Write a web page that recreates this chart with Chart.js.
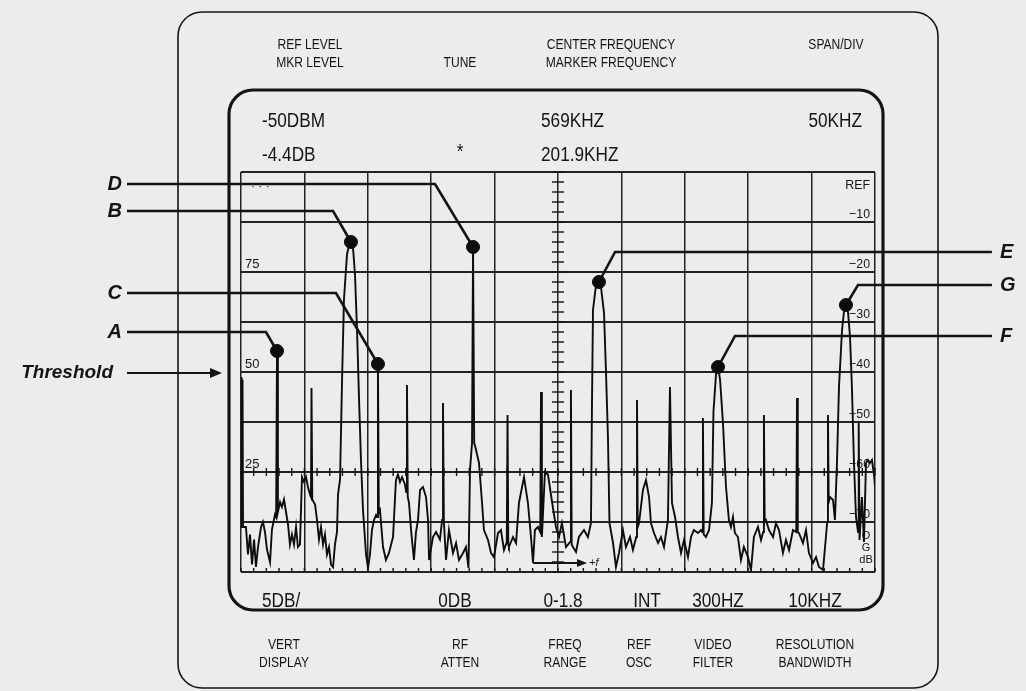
<!DOCTYPE html>
<html>
<head>
<meta charset="utf-8">
<script src="https://cdn.jsdelivr.net/npm/chart.js@4.4.1/dist/chart.umd.min.js"></script>
<style>
  html, body { margin: 0; padding: 0; background: #ececec; }
  #wrap { width: 1026px; height: 691px; }
</style>
</head>
<body>
<div id="wrap"><canvas id="scope" width="1026" height="691"></canvas></div>
<script>
// spectrum analyzer screen: center 569 kHz, 50 kHz/div, ref level at top, 10 dB per graticule line
const freqTicks = [319, 369, 419, 469, 519, 569, 619, 669, 719, 769, 819];
const levelTicks = [0, -10, -20, -30, -40, -50, -60, -70, -80];
const rightLabels = ["REF", "\u221210", "\u221220", "\u221230", "\u221240", "\u221250", "\u221260", "\u221270"];
const leftLabelLevels = [-20, -40, -60];
const leftLabels = ["75", "50", "25"];

// trace (kHz, dB below ref)
const traceFreq = [
  319.0, 319.4, 319.8, 320.2, 320.6, 322.9, 324.5, 326.1, 327.7, 329.3, 330.8, 332.4,
  334.8, 336.3, 337.9, 339.5, 341.9, 343.4, 345.8, 346.7, 347.4, 348.1,
  349.8, 351.3, 352.9, 354.5, 356.1, 357.6, 359.2, 360.8, 362.4, 363.9,
  365.5, 367.1, 368.7, 370.3, 371.8, 373.4, 374.2, 374.6, 375.2, 377.4,
  378.9, 380.5, 382.1, 383.7, 385.2, 386.8, 388.4, 390.0, 391.6, 393.1,
  394.7, 395.5, 397.1, 398.7, 400.2, 402.6, 404.2, 405.7, 407.3, 408.9,
  410.5, 412.1, 413.6, 415.2, 417.6, 419.2, 420.7, 422.3, 423.9, 425.5,
  426.3, 427.0, 427.7, 428.6, 431.0, 433.3, 435.7, 438.9, 441.2, 442.8,
  444.4, 446.0, 448.3, 449.3, 449.9, 450.5, 451.5, 453.1, 455.4, 457.0,
  458.6, 460.2, 462.5, 464.9, 466.5, 467.3, 470.4, 472.8, 475.9, 477.6,
  478.3, 479.0, 480.7, 483.0, 486.2, 488.6, 490.9, 494.1, 496.4, 498.4,
  499.6, 501.2, 502.0, 502.9, 503.8, 506.7, 509.1, 510.6, 513.8, 516.2,
  518.5, 521.7, 524.0, 526.4, 528.6, 529.2, 529.8, 530.3, 533.5, 535.9,
  538.2, 542.2, 545.3, 547.7, 549.3, 550.8, 553.2, 555.0, 555.6, 556.3,
  558.7, 561.1, 564.3, 567.4, 569.8, 572.1, 575.3, 578.6, 579.2, 579.8,
  580.8, 583.2, 585.5, 589.5, 592.6, 595.0, 595.8, 596.6, 599.0, 601.3,
  602.9, 605.3, 606.8, 608.4, 609.6, 612.4, 614.7, 617.1, 620.2, 622.6,
  625.8, 628.1, 630.7, 631.3, 631.9, 632.9, 636.0, 638.4, 640.8, 642.3,
  644.7, 647.9, 650.2, 652.6, 655.7, 657.3, 658.9, 661.3, 663.6, 666.0,
  668.4, 671.5, 673.9, 676.2, 679.4, 681.8, 682.7, 683.3, 683.9, 685.7,
  688.1, 690.4, 691.6, 693.6, 695.2, 696.8, 699.1, 701.5, 703.8, 705.4,
  707.0, 708.5, 710.9, 713.3, 715.6, 718.8, 721.2, 723.5, 726.7, 729.1,
  730.8, 731.4, 732.0, 733.0, 735.4, 738.6, 740.9, 743.3, 746.4, 748.8,
  751.2, 754.3, 756.9, 757.5, 758.1, 759.0, 762.2, 764.6, 766.9, 770.1,
  772.5, 774.8, 778.0, 780.3, 781.3, 781.9, 782.5, 783.5, 785.9, 787.4,
  789.0, 790.6, 793.0, 794.5, 796.1, 797.7, 799.3, 800.8, 802.4, 804.0,
  805.6, 806.0, 806.3, 806.8, 808.7, 810.3, 811.9, 813.4, 815.0, 816.6,
  818.2, 819.0
];
const traceLevel = [
  -71, -41, -70, -41.5, -71, -71, -76.5, -72.5, -78.5, -73.5, -79, -75,
  -71, -70, -72, -75.5, -78, -71.5, -68.5, -69, -36, -68,
  -66, -67, -65.5, -68, -70.5, -74.5, -72.5, -74.5, -71, -75,
  -74.5, -61, -62, -61, -63, -64.5, -65, -43.2, -65.5, -66.5,
  -69.5, -73.5, -71, -74.5, -72.5, -76.5, -75, -78.5, -79, -74.5,
  -72, -64.5, -61.5, -41.5, -25.5, -16.5, -14.6, -14, -15, -20.5,
  -31.5, -45.5, -57.5, -67.5, -76.5, -79.2, -76.5, -71.6, -69.6, -68.6,
  -69, -38.5, -68, -67.6, -75, -77.6, -76.2, -73, -61.6, -60.5,
  -62, -61, -62.5, -64, -42.6, -65, -66.2, -71.6, -77.6, -72,
  -69.6, -63.6, -63, -65, -69.6, -77.6, -73, -72, -73.5, -69.6,
  -46.2, -70, -77.6, -71.6, -76.2, -74.2, -77.6, -76.2, -75, -79.2,
  -59.6, -54.2, -15, -54.2, -55, -58.2, -66.2, -71.6, -73.6, -76.2,
  -77, -72.2, -71.6, -75.6, -74, -48.6, -74.5, -75, -73, -74.2,
  -66.2, -61, -66.2, -73, -78.2, -71.6, -71, -72, -44, -73,
  -60, -60.5, -66, -71, -73, -70.2, -75, -74, -43.6, -74.5,
  -75, -76, -73, -71.6, -73, -70.2, -46.2, -27.6, -22.6, -22,
  -23, -28.2, -39.6, -53, -70.2, -74.2, -79, -76.2, -71.6, -75,
  -73, -75.6, -73, -45.6, -71, -70.2, -63.6, -61.6, -65, -70.2,
  -72.2, -74.2, -73, -75, -69.6, -43, -66.2, -69, -73, -76.2,
  -73.6, -77, -73, -71.6, -72.2, -71.6, -72, -49.2, -72.5, -73,
  -71.6, -66.2, -48, -40.5, -39, -41.5, -50.2, -63, -69.6, -71,
  -69, -72.2, -73, -77.6, -75, -77, -79.6, -73, -71, -73.6,
  -72, -48.6, -70, -69.6, -71.6, -73, -70.2, -71.6, -76.2, -73.6,
  -75.6, -71.6, -72, -45.2, -72, -72.2, -74.2, -71.6, -76.2, -78.2,
  -77, -79, -79.6, -73, -70, -48.6, -66, -65, -65.6, -69.6,
  -58.2, -43, -31.6, -28, -26.6, -28, -33, -43, -58, -69,
  -72, -62, -50.2, -73.6, -65, -74, -58.2, -57.6, -58.2, -57.6,
  -60.5, -63
];

// markers A..G and their call-out lines
const markerNames = ["A", "B", "C", "D", "E", "F", "G"];
const markerFreq = [347.4, 405.7, 427.0, 502.0, 601.3, 695.2, 796.1];
const markerLevel = [-35.8, -14, -38.4, -15, -22, -39, -26.6];
const calloutSide = ["L", "L", "L", "L", "R", "R", "R"];
const calloutElbowFreq = [338.7, 391.6, 393.9, 472.0, 614.0, 708.6, 805.6];
const calloutLevel = [-32, -7.8, -24.2, -2.4, -16, -32.8, -22.6];
const calloutLeftEnd = 229.1;
const calloutRightEnd = 911.2;
const thresholdLevel = -40.2;
const thresholdArrowEnd = 304.0;
const sweepArrow = [549.3, 588.7, -78.2];

// readouts around the screen
const headerItems = [
  ["REF LEVEL", 310, 45], ["MKR LEVEL", 310, 63], ["TUNE", 460, 63],
  ["CENTER FREQUENCY", 611, 45], ["MARKER FREQUENCY", 611, 63], ["SPAN/DIV", 836, 45]
];
const readoutItems = [
  ["-50DBM", 262, 121, "left"], ["569KHZ", 541, 121, "left"], ["50KHZ", 862, 121, "right"],
  ["-4.4DB", 262, 155, "left"], ["*", 460, 152, "center"], ["201.9KHZ", 541, 155, "left"],
  ["5DB/", 262, 601, "left"], ["0DB", 455, 601, "center"], ["0-1.8", 563, 601, "center"],
  ["INT", 647, 601, "center"], ["300HZ", 718, 601, "center"], ["10KHZ", 815, 601, "center"]
];
const footerItems = [
  ["VERT", "DISPLAY", 284], ["RF", "ATTEN", 460], ["FREQ", "RANGE", 565],
  ["REF", "OSC", 639], ["VIDEO", "FILTER", 713], ["RESOLUTION", "BANDWIDTH", 815]
];

const ink = "#141414";

function narrow(c, str, x, y, size, align, squeeze) {
  c.save();
  c.font = size + 'px "Liberation Sans", Arial, sans-serif';
  c.textAlign = align || "center";
  c.textBaseline = "middle";
  c.translate(x, y);
  c.scale(squeeze || 0.88, 1);
  c.fillText(str, 0, 0);
  c.restore();
}

function rounded(c, x, y, w, h, r) {
  c.beginPath();
  c.moveTo(x + r, y);
  c.arcTo(x + w, y, x + w, y + h, r);
  c.arcTo(x + w, y + h, x, y + h, r);
  c.arcTo(x, y + h, x, y, r);
  c.arcTo(x, y, x + w, y, r);
  c.closePath();
}

const scopeDecor = {
  id: "scopeDecor",
  beforeDraw(chart) {
    const c = chart.ctx, a = chart.chartArea;
    c.save();
    c.fillStyle = "#ececec";
    c.fillRect(0, 0, chart.width, chart.height);
    c.strokeStyle = ink;
    c.lineWidth = 1.6;
    rounded(c, 178, 12, 760, 676, 24);
    c.stroke();
    c.lineWidth = 3.2;
    rounded(c, a.left - 12, a.top - 82, a.right - a.left + 20, a.bottom - a.top + 120, 24);
    c.stroke();
    c.fillStyle = ink;
    headerItems.forEach(h => narrow(c, h[0], h[1], h[2], 14, "center", 0.86));
    readoutItems.forEach(r => narrow(c, r[0], r[1], r[2], 20, r[3], 0.86));
    footerItems.forEach(f => {
      narrow(c, f[0], f[2], 645, 14, "center", 0.86);
      narrow(c, f[1], f[2], 663, 14, "center", 0.86);
    });
    c.restore();
  },
  beforeDatasetsDraw(chart) {
    const c = chart.ctx, a = chart.chartArea;
    const x = chart.scales.x, y = chart.scales.y;
    c.save();
    c.strokeStyle = ink;
    c.lineWidth = 1.4;
    // center graticule with minor ticks
    const cx = x.getPixelForValue(569);
    for (let v = 0; v >= -80; v -= 2) {
      const py = y.getPixelForValue(v);
      c.beginPath(); c.moveTo(cx - 6, py); c.lineTo(cx + 6, py); c.stroke();
    }
    const cy = y.getPixelForValue(-60);
    for (let f = 319; f <= 819; f += 10) {
      const px = x.getPixelForValue(f);
      c.beginPath(); c.moveTo(px, cy - 4); c.lineTo(px, cy + 4); c.stroke();
      c.beginPath(); c.moveTo(px, a.bottom); c.lineTo(px, a.bottom - 4); c.stroke();
    }
    c.fillStyle = ink;
    leftLabelLevels.forEach((v, i) => narrow(c, leftLabels[i], a.left + 4, y.getPixelForValue(v) - 8, 13, "left", 1));
    narrow(c, "\u00b7 \u00b7 \u00b7", a.left + 10, y.getPixelForValue(-3), 12, "left", 1);
    rightLabels.forEach((t, i) => {
      const py = i === 0 ? y.getPixelForValue(0) + 13 : y.getPixelForValue(levelTicks[i]) - 8;
      narrow(c, t, a.right - 5, py, 13, "right", 0.95);
    });
    ["O", "G", "dB"].forEach((t, i) => narrow(c, t, a.right - 9, a.bottom - 36 + i * 12, 11, "center", 1));
    // sweep direction arrow
    const s0 = x.getPixelForValue(sweepArrow[0]), s1 = x.getPixelForValue(sweepArrow[1]);
    const sy = y.getPixelForValue(sweepArrow[2]);
    c.lineWidth = 2;
    c.beginPath(); c.moveTo(s0, sy); c.lineTo(s1, sy); c.stroke();
    c.beginPath(); c.moveTo(s1 + 4, sy); c.lineTo(s1 - 6, sy - 4); c.lineTo(s1 - 6, sy + 4); c.closePath(); c.fill();
    c.font = 'italic 11px "Liberation Sans", Arial, sans-serif';
    c.textBaseline = "middle";
    c.textAlign = "left";
    c.fillText("+f", s1 + 6, sy);
    c.restore();
  },
  afterDraw(chart) {
    const c = chart.ctx;
    const x = chart.scales.x, y = chart.scales.y;
    c.save();
    c.fillStyle = ink;
    c.font = 'italic bold 20px "Liberation Sans", Arial, sans-serif';
    c.textBaseline = "middle";
    markerNames.forEach((n, i) => {
      const py = y.getPixelForValue(calloutLevel[i]);
      if (calloutSide[i] === "L") {
        c.textAlign = "right";
        c.fillText(n, x.getPixelForValue(calloutLeftEnd) - 5, py);
      } else {
        c.textAlign = "left";
        c.fillText(n, x.getPixelForValue(calloutRightEnd) + 8, py);
      }
    });
    // threshold pointer
    const ty = y.getPixelForValue(thresholdLevel);
    const t0 = x.getPixelForValue(calloutLeftEnd), t1 = x.getPixelForValue(thresholdArrowEnd);
    c.font = 'italic bold 19px "Liberation Sans", Arial, sans-serif';
    c.textAlign = "right";
    c.fillText("Threshold", t0 - 14, ty);
    c.strokeStyle = ink;
    c.lineWidth = 2.2;
    c.beginPath(); c.moveTo(t0, ty); c.lineTo(t1 - 8, ty); c.stroke();
    c.beginPath(); c.moveTo(t1, ty); c.lineTo(t1 - 12, ty - 5); c.lineTo(t1 - 12, ty + 5); c.closePath(); c.fill();
    c.restore();
  }
};

const traceData = traceFreq.map((f, i) => ({ x: f, y: traceLevel[i] }));
const markerData = markerFreq.map((f, i) => ({ x: f, y: markerLevel[i] }));

const callouts = markerNames.map((n, i) => {
  const end = calloutSide[i] === "L" ? calloutLeftEnd : calloutRightEnd;
  const pts = [
    { x: end, y: calloutLevel[i] },
    { x: calloutElbowFreq[i], y: calloutLevel[i] },
    { x: markerFreq[i], y: markerLevel[i] }
  ];
  return {
    label: "callout " + n,
    data: pts,
    borderColor: ink,
    borderWidth: 2.6,
    pointRadius: 0,
    tension: 0,
    clip: false
  };
});

const ctx = document.getElementById("scope").getContext("2d");
const scope = new Chart(ctx, {
  type: "line",
  data: {
    datasets: [
      {
        label: "trace",
        data: traceData,
        borderColor: "#0d0d0d",
        borderWidth: 1.9,
        pointRadius: 0,
        tension: 0
      },
      {
        label: "markers",
        data: markerData,
        showLine: false,
        pointRadius: 6.5,
        pointBackgroundColor: "#0d0d0d",
        pointBorderColor: "#0d0d0d",
        clip: false
      },
      ...callouts
    ]
  },
  options: {
    responsive: false,
    animation: false,
    layout: { padding: { left: 241, right: 151, top: 172, bottom: 119 } },
    plugins: { legend: { display: false }, tooltip: { enabled: false } },
    scales: {
      x: {
        type: "linear",
        min: 319,
        max: 819,
        afterBuildTicks: s => { s.ticks = freqTicks.map(v => ({ value: v })); },
        ticks: { display: false },
        grid: { color: "#222", lineWidth: 1.5, drawTicks: false },
        border: { display: false }
      },
      y: {
        type: "linear",
        min: -80,
        max: 0,
        afterBuildTicks: s => { s.ticks = levelTicks.map(v => ({ value: v })); },
        ticks: { display: false },
        grid: { color: "#222", lineWidth: 1.9, drawTicks: false },
        border: { display: false }
      }
    }
  },
  plugins: [scopeDecor]
});
</script>
</body>
</html>
